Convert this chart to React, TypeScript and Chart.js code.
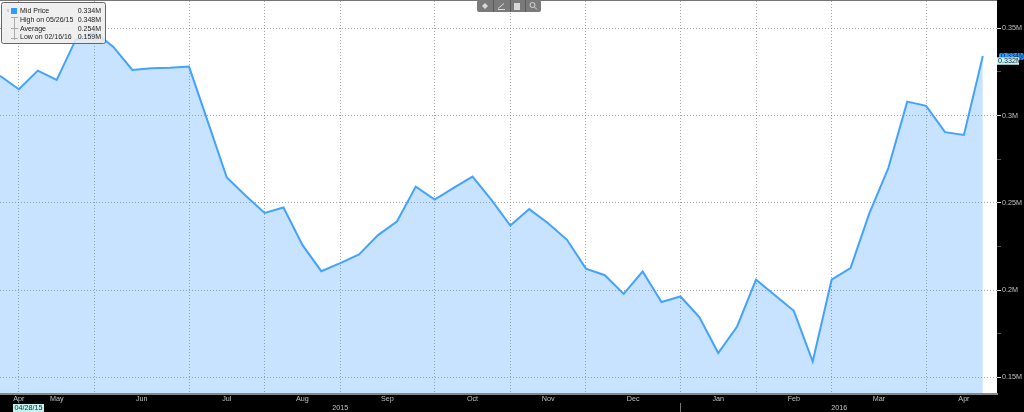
import { useEffect, useRef } from "react";
import Chart from "chart.js/auto";

const midPrice = [
  0.3228, 0.3151, 0.3258, 0.3205, 0.3434, 0.348, 0.3394, 0.3262, 0.3272, 0.3275,
  0.3281, 0.2964, 0.2645, 0.254, 0.2442, 0.2473, 0.2259, 0.2108, 0.2154, 0.2204,
  0.2315, 0.2393, 0.2593, 0.2519, 0.2586, 0.265, 0.2517, 0.237, 0.2464, 0.2383,
  0.2288, 0.2123, 0.2085, 0.1978, 0.2106, 0.1931, 0.1963, 0.1845, 0.1639, 0.1791,
  0.2059, 0.197, 0.1881, 0.159, 0.2059, 0.2126, 0.2441, 0.2699, 0.308, 0.3056,
  0.2905, 0.2889, 0.3342
];

// x positions are weeks since the first point
const monthEdges = [1, 5, 10, 14, 18, 23, 27, 31, 36, 40, 44, 49];
const monthCenters = [1, 3, 7.5, 12, 16, 20.5, 25, 29, 33.5, 38, 42, 46.5, 51];
const monthLabels = ["Apr", "May", "Jun", "Jul", "Aug", "Sep", "Oct", "Nov", "Dec", "Jan", "Feb", "Mar", "Apr"];
const yearCenters = [18, 44.4];
const yearLabels = ["2015", "2016"];
const yearBreak = 36;

const yTicks = [0.15, 0.175, 0.2, 0.225, 0.25, 0.275, 0.3, 0.325, 0.35];
const yLabelled = [0.15, 0.2, 0.25, 0.3, 0.35];

const legendRows = [
  ["Mid Price", "0.334M"],
  ["High on 05/26/15", "0.348M"],
  ["Average", "0.254M"],
  ["Low on 02/16/16", "0.159M"]
];
const lastLabel = "0.334M";
const trackerLabel = "0.332M";
const trackerValue = 0.332;
const dateLabel = "04/28/15";

const xMin = 0;
const xMax = 52.75;
const font = "Liberation Sans";
const lineBlue = "#44a2ff";
const gridColor = "rgba(120, 120, 120, 0.65)";
const axisText = "#c4c4c4";

const setTicks = (values: number[]) => (scale: any) => {
  scale.ticks = values.map(value => ({ value }));
};
const fixHeight = (h: number) => (scale: any) => {
  scale.height = h;
  scale.paddingLeft = 0;
  scale.paddingRight = 0;
};

const frame = {
  id: "frame",
  beforeDraw(chart: any) {
    const { ctx, chartArea } = chart;
    ctx.save();
    ctx.fillStyle = "#000";
    ctx.fillRect(0, 0, chart.width, chart.height);
    ctx.fillStyle = "#fff";
    ctx.fillRect(chartArea.left, chartArea.top, chartArea.width, chartArea.height);
    ctx.restore();
  },
  afterDraw(chart: any) {
    const { ctx, chartArea, scales } = chart;
    ctx.save();

    // top edge
    ctx.fillStyle = "#777";
    ctx.fillRect(0, 0, chartArea.right, 1);

    // 2015 / 2016 separator
    const bx = Math.round(scales.x.getPixelForValue(yearBreak)) + 0.5;
    ctx.strokeStyle = "#777";
    ctx.beginPath();
    ctx.moveTo(bx, 403);
    ctx.lineTo(bx, 412);
    ctx.stroke();

    // first date tag
    ctx.font = `7.2px ${font}`;
    ctx.textBaseline = "middle";
    ctx.textAlign = "center";
    ctx.fillStyle = "#c4f2ee";
    ctx.fillRect(13, 404, 31, 8);
    ctx.fillStyle = "#123";
    ctx.fillText(dateLabel, 28.5, 408.5);

    // right axis tags
    const lastY = scales.y.getPixelForValue(midPrice[midPrice.length - 1]);
    ctx.textAlign = "left";
    ctx.fillStyle = "#3399ff";
    ctx.beginPath();
    ctx.roundRect(999, lastY - 3, 25, 7, 2);
    ctx.fill();
    ctx.fillStyle = "#024";
    ctx.fillText(lastLabel, 1001, lastY + 0.5);
    const trackY = scales.y.getPixelForValue(trackerValue);
    ctx.fillStyle = "#c4f2ee";
    ctx.fillRect(997, trackY - 2.5, 22, 7.5);
    ctx.fillStyle = "#123";
    ctx.fillText(trackerLabel, 998, trackY + 1.5);

    // legend box
    ctx.fillStyle = "rgba(236,236,236,0.86)";
    ctx.strokeStyle = "#666";
    ctx.beginPath();
    ctx.roundRect(1.5, 2.5, 104, 41, 2);
    ctx.fill();
    ctx.stroke();
    ctx.fillStyle = "#3399ff";
    ctx.fillRect(11, 8, 6, 6);
    ctx.strokeStyle = "#aaa";
    ctx.beginPath();
    ctx.moveTo(14.5, 17);
    ctx.lineTo(14.5, 40);
    ctx.moveTo(11, 17.5);
    ctx.lineTo(18, 17.5);
    ctx.moveTo(11, 28.5);
    ctx.lineTo(18, 28.5);
    ctx.moveTo(11, 38.5);
    ctx.lineTo(18, 38.5);
    ctx.moveTo(8, 9);
    ctx.lineTo(8, 12);
    ctx.stroke();
    ctx.font = `7px ${font}`;
    legendRows.forEach((row, i) => {
      const y = 11.5 + i * 8.6;
      ctx.fillStyle = "#222";
      ctx.textAlign = "left";
      ctx.fillText(row[0], 20, y);
      ctx.textAlign = "right";
      ctx.fillText(row[1], 101, y);
    });

    // toolbar
    ctx.fillStyle = "#7a7a7a";
    ctx.beginPath();
    ctx.roundRect(477, 0, 64, 12, 2);
    ctx.fill();
    ctx.strokeStyle = "#5c5c5c";
    [493, 510, 525].forEach(x => {
      ctx.beginPath();
      ctx.moveTo(x + 0.5, 0);
      ctx.lineTo(x + 0.5, 12);
      ctx.stroke();
    });
    ctx.fillStyle = "#d8d8d8";
    ctx.strokeStyle = "#d8d8d8";
    ctx.beginPath();
    ctx.moveTo(482, 6);
    ctx.lineTo(485, 3);
    ctx.lineTo(488, 6);
    ctx.lineTo(485, 9);
    ctx.closePath();
    ctx.fill();
    ctx.beginPath();
    ctx.moveTo(498, 8.5);
    ctx.lineTo(504, 3.5);
    ctx.moveTo(498, 9.5);
    ctx.lineTo(505, 9.5);
    ctx.stroke();
    ctx.fillRect(514, 3, 6, 7);
    ctx.beginPath();
    ctx.arc(532.5, 5, 2.5, 0, Math.PI * 2);
    ctx.moveTo(534.5, 7);
    ctx.lineTo(537, 9.5);
    ctx.stroke();

    ctx.restore();
  }
};

export default function App() {
  const canvasRef = useRef<HTMLCanvasElement>(null);

  useEffect(() => {
    if (!canvasRef.current) return;

    const chart = new Chart(canvasRef.current, {
      type: "line",
      data: {
        datasets: [
          {
            label: "Mid Price",
            data: midPrice.map((y, i) => ({ x: i, y })),
            borderColor: lineBlue,
            backgroundColor: "rgba(51, 153, 255, 0.27)",
            borderWidth: 2,
            pointRadius: 0,
            tension: 0,
            fill: "start",
            xAxisID: "x",
            yAxisID: "y"
          }
        ]
      },
      options: {
        responsive: false,
        animation: false,
        layout: { padding: { top: 1 } },
        plugins: {
          legend: { display: false },
          tooltip: { enabled: false }
        },
        scales: {
          x: {
            type: "linear",
            position: "bottom",
            weight: 0,
            min: xMin,
            max: xMax,
            afterBuildTicks: setTicks(monthEdges),
            afterFit: fixHeight(0),
            ticks: { display: false },
            border: { color: "#888", width: 2, dash: [1, 2] },
            grid: { color: gridColor, lineWidth: 1, drawTicks: false }
          },
          months: {
            type: "linear",
            position: "bottom",
            weight: 1,
            min: xMin,
            max: xMax,
            afterBuildTicks: setTicks(monthCenters),
            afterFit: fixHeight(9),
            border: { display: false },
            grid: { display: false, drawTicks: false },
            ticks: {
              color: axisText,
              padding: 1,
              autoSkip: false,
              maxRotation: 0,
              font: { family: font, size: 7.2 },
              callback: (_v: any, i: number) => monthLabels[i]
            }
          },
          years: {
            type: "linear",
            position: "bottom",
            weight: 2,
            min: xMin,
            max: xMax,
            afterBuildTicks: setTicks(yearCenters),
            afterFit: fixHeight(9),
            border: { display: false },
            grid: { display: false, drawTicks: false },
            ticks: {
              color: axisText,
              padding: 1,
              autoSkip: false,
              maxRotation: 0,
              font: { family: font, size: 7.2 },
              callback: (_v: any, i: number) => yearLabels[i]
            }
          },
          y: {
            type: "linear",
            position: "right",
            min: 0.1404,
            max: 0.3657,
            afterBuildTicks: setTicks(yTicks),
            afterFit: (scale: any) => {
              scale.width = 27;
              scale.paddingTop = 0;
              scale.paddingBottom = 0;
            },
            border: { display: false, dash: [1, 2] },
            grid: {
              color: (c: any) => (yLabelled.includes(c.tick?.value) ? gridColor : "transparent"),
              tickColor: (c: any) => (yLabelled.includes(c.tick?.value) ? "#ddd" : "#555"),
              tickBorderDash: [],
              tickLength: 4,
              lineWidth: 1
            },
            ticks: {
              color: axisText,
              padding: 1,
              autoSkip: false,
              font: { family: font, size: 7.2 },
              callback: (v: any) => (yLabelled.includes(v) ? `${v}M` : "")
            }
          }
        }
      },
      plugins: [frame]
    });

    return () => chart.destroy();
  }, []);

  return (
    <div style={{ position: "fixed", left: 0, top: 0, width: 1024, height: 412 }}>
      <canvas ref={canvasRef} width={1024} height={412} style={{ display: "block" }}></canvas>
    </div>
  );
}
